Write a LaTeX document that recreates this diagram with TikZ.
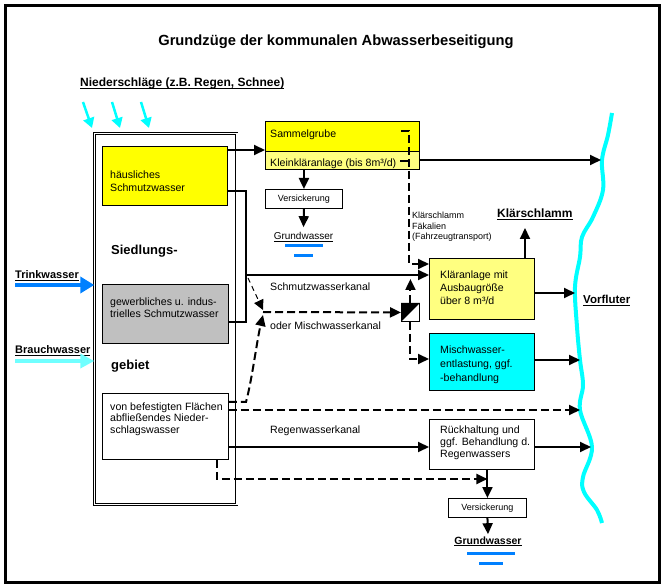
\documentclass[tikz,border=0pt]{standalone}
\usepackage{fontspec}
\setmainfont{Liberation Sans}
\usetikzlibrary{arrows.meta}
\definecolor{yel}{HTML}{FFFF00}
\definecolor{lyel}{HTML}{FFFF80}
\definecolor{grayb}{HTML}{C0C0C0}
\definecolor{cyanb}{HTML}{00FFFF}
\definecolor{blueb}{HTML}{0080FF}
\definecolor{lcyan}{HTML}{70FFFF}
\newcommand\myul[2]{\vtop{\setbox0\hbox{#2}\dp0=0pt\box0\kern1.1pt\hrule height #1}}
\newcommand\mlines[2]{\vtop{\baselineskip=#1\lineskiplimit=-10pt\halign{##\hfil\cr#2\crcr}}}
\begin{document}
\begin{tikzpicture}[x=1pt,y=-1pt,
  box/.style={draw, line width=0.9pt, anchor=north west, inner sep=0pt},
  t/.style={inner sep=0pt, anchor=base west, font=\fontsize{10.6}{12.5}\selectfont},
  ts/.style={inner sep=0pt, anchor=base west, font=\fontsize{9}{10.7}\selectfont},
  tb/.style={inner sep=0pt, anchor=base west, font=\bfseries\fontsize{11}{13}\selectfont},
  ln/.style={line width=2pt},
  fl/.style={line width=2pt, -{Triangle[length=11pt,width=10pt]}},
  dl/.style={line width=2pt, dash pattern=on 8pt off 4pt},
  dfl/.style={dl, -{Triangle[length=11pt,width=10pt]}},
  tdfl/.style={line width=1pt, dash pattern=on 5pt off 4pt, -{Triangle[length=10pt,width=10pt]}},
  rain/.style={cyanb, line width=2.5pt, -{Triangle[length=10pt,width=11pt]}},
  bar/.style={blueb, line width=3pt}
]
\useasboundingbox (0,0) rectangle (665,588);
\draw[line width=3pt] (5.5,5.5) rectangle (659.5,582.5);

% title
\node[inner sep=0pt, font=\bfseries\fontsize{14.7}{17}\selectfont] (title) at (336,42) {Grundzüge der kommunalen Abwasserbeseitigung};
\node[inner sep=0pt, anchor=base west, font=\bfseries\fontsize{12}{14}\selectfont] (nied) at (80,86.5) {\myul{1.2pt}{Niederschläge (z.B. Regen, Schnee)}};

% rain arrows
\draw[rain] (83,102) -- (92,128);
\draw[rain] (112,102) -- (120,128);
\draw[rain] (141,102) -- (149,128);

% Siedlungsgebiet
\node[draw, double, double distance=1.5pt, line width=0.8pt, anchor=north west, inner sep=0pt,
      minimum width=142.2pt, minimum height=371pt] (sg) at (94.3,133) {};
\node[box, fill=yel, minimum width=125pt, minimum height=59pt] (haus) at (102,146) {};
\node[t] (haustxt) at (110,179) {\mlines{13pt}{häusliches\cr Schmutzwasser}};
\node[inner sep=0pt, anchor=base west, font=\bfseries\fontsize{13}{15}\selectfont] (sied) at (111,255) {Siedlungs-};
\node[box, fill=grayb, minimum width=126pt, minimum height=59pt] (gew) at (102,284) {};
\node[t] (gewtxt) at (110,306) {\mlines{12pt}{gewerbliches u. indus-\cr trielles Schmutzwasser}};
\node[inner sep=0pt, anchor=base west, font=\bfseries\fontsize{13}{15}\selectfont] (geb) at (111,370) {gebiet};
\node[box, fill=white, minimum width=126pt, minimum height=66pt] (bef) at (102,393) {};
\node[t] (beftxt) at (110,410) {\mlines{12pt}{von befestigten Flächen\cr abfließendes Nieder-\cr schlagswasser}};

% Trinkwasser / Brauchwasser
\node[tb] (trink) at (15,279) {\myul{1.2pt}{Trinkwasser}};
\node[tb] (brauch) at (15,354) {\myul{1.2pt}{Brauchwasser}};
\coordinate (tw0) at (15,285);
\coordinate (bw0) at (15,361);
\draw[blueb, line width=4pt, -{Triangle[length=14pt,width=16pt]}] (tw0) -- (sg.west |- tw0);
\draw[lcyan, line width=4pt, -{Triangle[length=14pt,width=14pt]}] (bw0) -- (sg.west |- bw0);

% Sammelgrube / Kleinklaeranlage
\node[box, fill=yel, minimum width=154pt, minimum height=30pt] (samm) at (265,121) {};
\node[box, fill=lyel, minimum width=154pt, minimum height=18pt] (klein) at (265,151) {};
\node[t] (sammtxt) at (270,138) {Sammelgrube};
\node[t] (kleintxt) at (270,167) {Kleinkläranlage (bis 8m³/d)};
\node[box, fill=white, minimum width=77pt, minimum height=19pt, font=\fontsize{9}{11}\selectfont] (vers1) at (265,189) {Versickerung};
\node[inner sep=0pt, anchor=base, font=\fontsize{10}{12}\selectfont] (gw1) at (303.5,239.6) {\myul{0.8pt}{Grundwasser}};
\draw[bar] (285,246) -- (323,246);
\draw[bar] (294,256) -- (313,256);

% Klaeranlage etc.
\node[box, fill=lyel, minimum width=105pt, minimum height=61pt] (klaer) at (429,258) {};
\node[t] (klaertxt) at (440,279) {\mlines{13pt}{Kläranlage mit\cr Ausbaugröße\cr über 8 m³/d}};
\node[box, fill=cyanb, minimum width=105pt, minimum height=57pt] (misch) at (429,333) {};
\node[t] (mischtxt) at (440,354) {\mlines{14pt}{Mischwasser-\cr entlastung, ggf.\cr -behandlung}};
\node[box, fill=white, minimum width=105pt, minimum height=50pt] (rueck) at (429,419) {};
\node[t] (ruecktxt) at (440,434) {\mlines{12pt}{Rückhaltung und\cr ggf. Behandlung d.\cr Regenwassers}};
\node[box, fill=white, minimum width=78pt, minimum height=19pt, font=\fontsize{9}{11}\selectfont] (vers2) at (448,498) {Versickerung};
\node[inner sep=0pt, anchor=base, font=\bfseries\fontsize{10.5}{12}\selectfont] (gw2) at (488,544) {\myul{1.3pt}{Grundwasser}};
\draw[bar] (467,553) -- (515,553);
\draw[bar] (479,563) -- (503,563);

\node[inner sep=0pt, anchor=base west, font=\bfseries\fontsize{12}{14}\selectfont] (ksl) at (497,218) {\myul{1.4pt}{Klärschlamm}};
\node[inner sep=0pt, anchor=base west, font=\bfseries\fontsize{11.5}{14}\selectfont] (vorf) at (583,304) {\myul{1.4pt}{Vorfluter}};
\node[ts] (fahr) at (412,218.5) {\mlines{10.7pt}{Klärschlamm\cr Fäkalien\cr (Fahrzeugtransport)}};

\node[t] (swk) at (270,291) {Schmutzwasserkanal};
\node[t] (mwk) at (270,330) {oder Mischwasserkanal};
\node[t] (rwk) at (270,434) {Regenwasserkanal};

% switch
\node[draw, line width=0.9pt, fill=white, anchor=north west, inner sep=0pt, minimum size=18pt] (sw) at (401,303) {};
\fill (sw.north west) -- (sw.north east) -- (sw.south west) -- cycle;

% river
\draw[cyanb, line width=4pt] plot[smooth, tension=0.6] coordinates {(612,113) (608,135) (602,160) (603,190) (593,217) (582,237) (580,257) (575,287) (577,327) (580,360) (583,385) (580,410) (592,447) (583,477) (584,492) (597,510) (602,523)};
\coordinate (r1) at (601,160);
\coordinate (r2) at (575,293);
\coordinate (r3) at (580,360);
\coordinate (r4) at (580,410);
\coordinate (r5) at (591,447);

% connectors
\draw[fl] (haus.east |- 0,150) -- (samm.west |- 0,150);
\draw[fl] (klein.east |- r1) -- (r1);
\draw[fl] (klein.south -| vers1.north) -- (vers1.north);
\draw[fl] (vers1.south) -- ([yshift=5pt]gw1.north);

\coordinate (d0) at (401,131);
\coordinate (d1) at (409,264);
\coordinate (d2) at (400,161);
\draw[dfl] (d0) -| (d1) -- (klaer.west |- d1);
\draw[dl] (d2) -- (d2 -| d1);

\coordinate (vx) at (246,275);
\draw[ln] (haus.east |- 0,191) -| (vx) |- (gew.east |- 0,322);
\draw[fl] (vx) -- (klaer.west |- vx);

\coordinate (kx) at (525,228);
\draw[fl] (klaer.north -| kx) -- (kx);
\draw[fl] (klaer.east |- r2) -- (r2);
\draw[fl] (misch.east |- r3) -- (r3);

\coordinate (mj) at (263,312);
\coordinate (sl0) at (248,278);
\coordinate (mjA) at (263,310);
\coordinate (mjB) at (263,315);
\draw[tdfl] (sl0) -- (mjA);
\draw[dfl] (bef.east |- 0,402) -- (246,402) .. controls (252,380) and (257,340) .. (mjB);
\draw[dfl] (mj) -- (sw.west);
\draw[dfl] (sw.north) -- (sw.north |- 0,279);
\draw[dfl] (sw.south) |- (misch.west |- 0,359);

\draw[dfl] (bef.east |- r4) -- (r4);
\draw[fl] (bef.east |- 0,447) -- (rueck.west |- 0,447);
\draw[fl] (rueck.east |- r5) -- (r5);
\coordinate (bx) at (217,479);
\draw[dfl] (bef.south -| bx) |- (vers2.north |- bx);
\draw[fl] (rueck.south -| vers2.north) -- (vers2.north);
\draw[fl] (vers2.south) -- ([yshift=2pt]gw2.north);
\end{tikzpicture}
\end{document}
